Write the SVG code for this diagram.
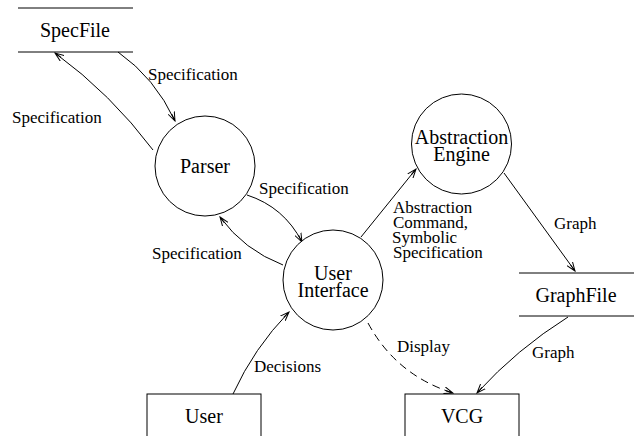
<svg xmlns="http://www.w3.org/2000/svg" width="635" height="436" viewBox="0 0 635 436">
  <style>
    .shape { fill: #fff; stroke: #000; stroke-width: 1; }
    .store { stroke: #000; stroke-width: 1; }
    .node-label { font-size: 20px; fill: #000; text-anchor: middle; }
    .edge-label { font-size: 17px; fill: #000; }
    .edge { fill: none; stroke: #000; stroke-width: 1; marker-end: url(#arrow); }
    .dashed { stroke-dasharray: 8 5; }
  </style>
  <defs>
    <marker id="arrow" viewBox="0 0 10 8" refX="9" refY="4" markerWidth="10" markerHeight="8" markerUnits="userSpaceOnUse" orient="auto">
      <path d="M0,0.6 L9,4 L0,7.4 M1.5,4 L9,4" fill="none" stroke="#000" stroke-width="1"/>
    </marker>
  </defs>

  <rect width="635" height="436" fill="#fff"/>

  <!-- connectors -->
  <g id="connectors">
    <path class="edge" d="M118,52 Q155,78 175,121"/>
    <path class="edge" d="M153,150 Q111,94 55,53"/>
    <path class="edge" d="M247,195 Q284,207 302,242"/>
    <path class="edge" d="M283,265 Q244,250 220,217"/>
    <path class="edge" d="M361,237 L416,169"/>
    <path class="edge" d="M504,173 L575,271"/>
    <path class="edge" d="M568,317 Q517,349 477,393"/>
    <path class="edge dashed" d="M368,323 Q396,375 453,393"/>
    <path class="edge" d="M233,394 Q254,348 289,312"/>
  </g>

  <g font-family="'Liberation Serif', 'Times New Roman', serif">
    <!-- edge labels -->
    <g id="edge-labels">
      <text class="edge-label" x="148" y="80">Specification</text>
      <text class="edge-label" x="12" y="123">Specification</text>
      <text class="edge-label" x="259" y="194">Specification</text>
      <text class="edge-label" x="152" y="259">Specification</text>
      <text class="edge-label" x="254" y="372">Decisions</text>
      <text class="edge-label" x="393" y="213">Abstraction</text>
      <text class="edge-label" x="393" y="228">Command,</text>
      <text class="edge-label" x="392" y="243">Symbolic</text>
      <text class="edge-label" x="393" y="258">Specification</text>
      <text class="edge-label" x="554" y="229">Graph</text>
      <text class="edge-label" x="397" y="352">Display</text>
      <text class="edge-label" x="532" y="358">Graph</text>
    </g>

    <!-- data stores -->
    <g id="specfile">
      <line class="store" x1="18" y1="8" x2="133" y2="8"/>
      <line class="store" x1="18" y1="52" x2="133" y2="52"/>
      <text class="node-label" x="75" y="37">SpecFile</text>
    </g>
    <g id="graphfile">
      <line class="store" x1="519" y1="273" x2="634" y2="273"/>
      <line class="store" x1="519" y1="316" x2="634" y2="316"/>
      <text class="node-label" x="576" y="302">GraphFile</text>
    </g>

    <!-- processes -->
    <g id="parser">
      <circle class="shape" cx="205" cy="166" r="50"/>
      <text class="node-label" x="205" y="173">Parser</text>
    </g>
    <g id="user-interface">
      <circle class="shape" cx="333" cy="280" r="50"/>
      <text class="node-label" x="333" y="280">User</text>
      <text class="node-label" x="333" y="297">Interface</text>
    </g>
    <g id="abstraction-engine">
      <circle class="shape" cx="461.5" cy="144" r="50"/>
      <text class="node-label" x="461.5" y="144">Abstraction</text>
      <text class="node-label" x="461.5" y="161">Engine</text>
    </g>

    <!-- external entities -->
    <g id="user">
      <rect class="shape" x="147" y="394" width="114" height="60"/>
      <text class="node-label" x="204" y="423">User</text>
    </g>
    <g id="vcg">
      <rect class="shape" x="405" y="394" width="114" height="60"/>
      <text class="node-label" x="462" y="423">VCG</text>
    </g>
  </g>
</svg>
